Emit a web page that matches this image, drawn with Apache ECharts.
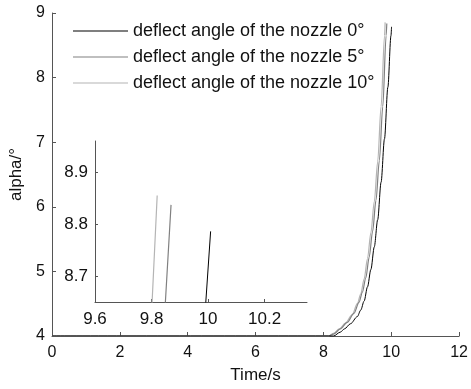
<!DOCTYPE html>
<html>
<head>
<meta charset="utf-8">
<script src="https://cdn.jsdelivr.net/npm/echarts@6/dist/echarts.min.js"></script>
<style>html,body{margin:0;padding:0;background:#fff}#c{width:471px;height:389px}</style>
</head>
<body>
<div id="c"></div>
<script>
const seriesNames = ['deflect angle of the nozzle 0\u00b0', 'deflect angle of the nozzle 5\u00b0', 'deflect angle of the nozzle 10\u00b0'];
const mainXTicks = [0, 2, 4, 6, 8, 10, 12];
const mainYTicks = [4, 5, 6, 7, 8, 9];
const insetXTicks = [9.6, 9.8, 10, 10.2];
const insetYTicks = [8.7, 8.8, 8.9];
const alpha0 = [[0,4],[8,4],[8.3,4.0],[8.5,4.06],[8.62,4.11],[8.8,4.19],[9.0,4.3],[9.1,4.4],[9.2,4.54],[9.3,4.76],[9.4,5.03],[9.5,5.38],[9.6,5.8],[9.7,6.38],[9.8,7.05],[9.9,7.85],[9.992,8.65],[10.009,8.786]];
const alpha5 = [[0,4],[8,4],[8.15,4.0],[8.3,4.03],[8.5,4.11],[8.7,4.21],[8.9,4.35],[9.05,4.52],[9.15,4.68],[9.25,4.9],[9.35,5.22],[9.45,5.62],[9.55,6.1],[9.65,6.72],[9.75,7.55],[9.849,8.65],[9.869,8.837]];
const alpha10 = [[0,4],[8,4],[8.15,4.0],[8.3,4.04],[8.47,4.11],[8.65,4.2],[8.85,4.33],[9.0,4.5],[9.1,4.65],[9.2,4.88],[9.3,5.2],[9.4,5.6],[9.5,6.08],[9.6,6.7],[9.7,7.55],[9.802,8.65],[9.82,8.855]];
const seriesData = [alpha0, alpha5, alpha10];
const colors = ['#000000', '#808080', '#b4b4b4'];
const widths = [1, 1.2, 1.2];

const font = 'Liberation Sans, Arial, sans-serif';
const axisLineStyle = {color: '#555', width: 1};
const chart = echarts.init(document.getElementById('c'));
const series = [];
seriesData.forEach((d, i) => {
  series.push({name: seriesNames[i], type: 'line', data: d, xAxisIndex: 0, yAxisIndex: 0, symbol: 'none', z: 5 - i,
    smooth: 0.3, smoothMonotone: 'x',
    lineStyle: {color: colors[i], width: widths[i]}, itemStyle: {color: colors[i]}, animation: false});
  series.push({name: seriesNames[i], type: 'line', data: d, xAxisIndex: 1, yAxisIndex: 1, symbol: 'none', clip: true, z: 5 - i,
    lineStyle: {color: colors[i], width: widths[i]}, itemStyle: {color: colors[i]}, animation: false});
});
chart.setOption({
  animation: false,
  backgroundColor: '#fff',
  legend: {
    data: seriesNames, orient: 'vertical', left: 68, top: 17, itemWidth: 55, itemHeight: 1, itemGap: 8,
    icon: 'rect',
    textStyle: {fontFamily: font, fontSize: 18, color: '#111', padding: [0,0,0,0]}
  },
  grid: [
    {left: 52, top: 13, width: 408, height: 324},
    {left: 95, top: 141, width: 212, height: 161}
  ],
  xAxis: [
    {type: 'value', gridIndex: 0, min: 0, max: 12, interval: 2, splitLine: {show: false},
     axisLine: {lineStyle: axisLineStyle}, axisTick: {inside: true, length: 4, lineStyle: axisLineStyle},
     axisLabel: {fontFamily: font, fontSize: 16, color: '#111', margin: 9, customValues: mainXTicks},
     name: 'Time/s', nameLocation: 'middle', nameGap: 31, nameTextStyle: {fontFamily: font, fontSize: 17, color: '#111'}},
    {type: 'value', gridIndex: 1, min: 9.6, max: 10.35, splitLine: {show: false},
     axisLine: {lineStyle: axisLineStyle}, axisTick: {inside: true, length: 3, lineStyle: axisLineStyle, customValues: insetXTicks},
     axisLabel: {fontFamily: font, fontSize: 17, color: '#111', margin: 9, customValues: insetXTicks}}
  ],
  yAxis: [
    {type: 'value', gridIndex: 0, min: 4, max: 9, interval: 1, splitLine: {show: false},
     axisLine: {show: true, lineStyle: axisLineStyle}, axisTick: {show: true, inside: true, length: 4, lineStyle: axisLineStyle},
     axisLabel: {fontFamily: font, fontSize: 16, color: '#111', margin: 7, customValues: mainYTicks},
     name: 'alpha/\u00b0', nameLocation: 'middle', nameGap: 27, nameTextStyle: {fontFamily: font, fontSize: 17, color: '#111'}},
    {type: 'value', gridIndex: 1, min: 8.65, max: 8.96, splitLine: {show: false},
     axisLine: {show: true, lineStyle: axisLineStyle}, axisTick: {show: true, inside: true, length: 3, lineStyle: axisLineStyle, customValues: insetYTicks},
     axisLabel: {fontFamily: font, fontSize: 17, color: '#111', margin: 7, customValues: insetYTicks}}
  ],
  series: series
});
</script>
</body>
</html>
